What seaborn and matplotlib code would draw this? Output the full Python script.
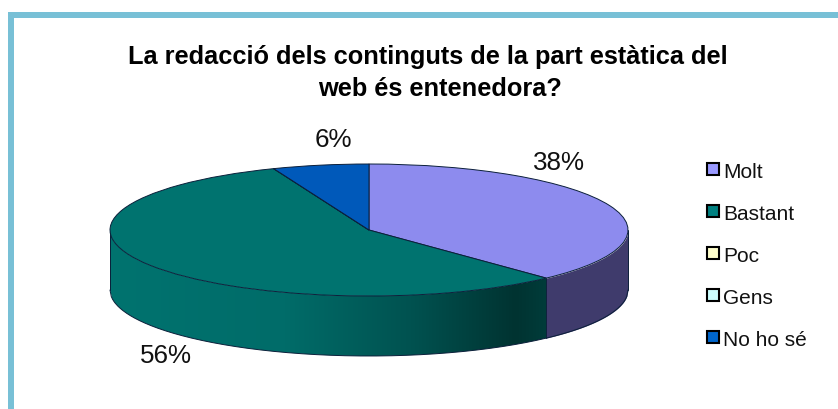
import numpy as np
import seaborn as sns
import matplotlib
matplotlib.use("Agg")
import matplotlib.pyplot as plt
from matplotlib.colors import LinearSegmentedColormap
from matplotlib.patches import Polygon, Rectangle

# datos
categorias = ["Molt", "Bastant", "Poc", "Gens", "No ho sé"]
valores = [38, 56, 0, 0, 6]
colores_tapa = ["#8D8BEE", "#00736F", "#FFFFCC", "#CCFFFF", "#0059BA"]
colores_leyenda = ["#9999FF", "#008080", "#FFFFCC", "#CCFFFF", "#0066CC"]
titulo = ["La redacció dels continguts de la part estàtica del", "web és entenedora?"]

sns.set_theme(style="white")
plt.rcParams["font.family"] = ["Liberation Sans", "DejaVu Sans"]

W, H = 838, 410
fig = plt.figure(figsize=(W / 100, H / 100), dpi=100)

# fondo en pixeles: marco y textos
fondo = fig.add_axes([0, 0, 1, 1])
fondo.set_xlim(0, W)
fondo.set_ylim(H, 0)
fondo.axis("off")
fondo.add_patch(Rectangle((8, 13), 6, H - 13, color="#78C0D6", lw=0))
fondo.add_patch(Rectangle((8, 13), W - 8, 6, color="#78C0D6", lw=0))
fondo.text(428, 57, titulo[0], ha="center", va="center", fontsize=18.3,
           fontweight="bold", color="black")
fondo.text(440, 89, titulo[1], ha="center", va="center", fontsize=18.3,
           fontweight="bold", color="black")

# tarta: elipse de 518x132 px con 60 px de grosor
izq, arriba, ancho, alto_tapa, grosor = 110, 165, 518, 132, 60
ax = fig.add_axes([izq / W, 1 - (arriba + alto_tapa + grosor) / H,
                   ancho / W, (alto_tapa + grosor) / H])
prof = grosor / (alto_tapa / 2)

# pared lateral a partir de los porcentajes
corte = np.sin(np.deg2rad(valores[0] / sum(valores) * 360))
degradado = LinearSegmentedColormap.from_list(
    "bastant", [(0, "#00736F"), (0.4, "#006C69"), (0.7, "#00514F"),
                (0.93, "#003331"), (1, "#003C3A")])


def pared(x):
    y = -np.sqrt(np.clip(1 - x ** 2, 0, 1))
    return np.r_[x, x[::-1]], np.r_[y, (y - prof)[::-1]]


xs = np.linspace(-1, corte, 200)
px, py = pared(xs)
contorno = Polygon(np.c_[px, py], closed=True, facecolor="none", edgecolor="none",
                   transform=ax.transData)
ax.add_patch(contorno)
img = ax.imshow(np.linspace(0, 1, 256)[None, :], cmap=degradado, aspect="auto",
                extent=(-1, corte, -1 - prof, 0), interpolation="bilinear")
img.set_clip_path(contorno)

xm = np.linspace(corte, 1, 80)
ym = -np.sqrt(np.clip(1 - xm ** 2, 0, 1))
ax.fill_between(xm, ym, ym - prof, color="#3F3B6C", lw=0)

borde = "#0B1F3A"
xb = np.linspace(-1, 1, 400)
yb = -np.sqrt(np.clip(1 - xb ** 2, 0, 1)) - prof
ax.plot(xb, yb, color=borde, lw=0.7, clip_on=False)
ax.plot([-1, -1], [0, -prof], color=borde, lw=0.7, clip_on=False)
ax.plot([1, 1], [0, -prof], color=borde, lw=0.7, clip_on=False)
yc = -np.sqrt(1 - corte ** 2)
ax.plot([corte, corte], [yc, yc - prof], color=borde, lw=0.7)

# tapa
cunas, _ = ax.pie(valores, colors=colores_tapa, startangle=90, counterclock=False,
                  radius=1, wedgeprops={"edgecolor": borde, "linewidth": 0.7})
for c in cunas:
    c.set_clip_on(False)
    c.set_zorder(3)
ax.set_aspect("auto")
ax.set_xlim(-1, 1)
ax.set_ylim(-1 - prof, 1)

# etiquetas de porcentaje
pos_etiquetas = {0: (559, 163), 1: (166, 356), 4: (333, 140)}
for i, (tx, ty) in pos_etiquetas.items():
    fondo.text(tx, ty, f"{valores[i]}%", ha="center", va="center", fontsize=18.7,
               color="#111111")

# leyenda
filas = [170, 212, 254, 296, 338]
for nombre, color, fy in zip(categorias, colores_leyenda, filas):
    fondo.add_patch(Rectangle((707, fy - 6), 12, 12, facecolor=color,
                              edgecolor="black", lw=1.5))
    fondo.text(723, fy + 3, nombre, ha="left", va="center", fontsize=15, color="#111111")

fig.savefig("out.png", dpi=100)
